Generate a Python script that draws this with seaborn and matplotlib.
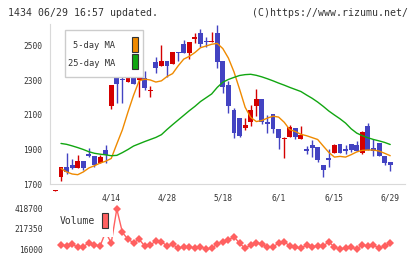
import matplotlib
matplotlib.use("Agg")
import matplotlib.pyplot as plt
from matplotlib.patches import Rectangle
import numpy as np
import pandas as pd
import seaborn as sns

# trading days (3/31 is the clipped candle under the axis)
dates = ["3/31",
         "4/1", "4/2", "4/3", "4/6", "4/7", "4/8", "4/9", "4/10", "4/13", "4/14",
         "4/15", "4/16", "4/17", "4/20", "4/21", "4/22", "4/23", "4/24", "4/27", "4/28",
         "4/30", "5/1", "5/7", "5/8", "5/11", "5/12", "5/13", "5/14", "5/15", "5/18",
         "5/19", "5/20", "5/21", "5/22", "5/25", "5/26", "5/27", "5/28", "5/29", "6/1",
         "6/2", "6/3", "6/4", "6/5", "6/8", "6/9", "6/10", "6/11", "6/12", "6/15",
         "6/16", "6/17", "6/18", "6/19", "6/22", "6/23", "6/24", "6/25", "6/26", "6/29"]

opens = [1662,
         1739, 1798, 1810, 1793, 1833, 1875, 1862, 1821, 1896, 2151,
         2469, 2309, 2291, 2349, 2301, 2313, 2241, 2405, 2384, 2411,
         2395, 2465, 2509, 2459, 2540, 2573, 2527, 2523, 2578, 2411,
         2272, 2128, 2081, 2025, 2060, 2151, 2191, 2060, 2103, 2020,
         1958, 1974, 2024, 1962, 1898, 1925, 1914, 1810, 1852, 1881,
         1931, 1902, 1931, 1925, 1881, 2035, 1908, 1937, 1862, 1829]
closes = [1668,
          1798, 1769, 1795, 1833, 1794, 1864, 1812, 1856, 1866, 2272,
          2282, 2305, 2341, 2282, 2330, 2257, 2245, 2372, 2411, 2384,
          2463, 2461, 2459, 2521, 2555, 2509, 2523, 2527, 2405, 2262,
          2151, 1997, 1977, 2041, 2128, 2191, 2060, 2047, 2016, 1968,
          1962, 2029, 1974, 1983, 1894, 1908, 1839, 1781, 1839, 1925,
          1881, 1892, 1898, 1892, 2001, 1896, 1892, 1864, 1823, 1812]
highs = [1668,
         1800, 1879, 1844, 1868, 1833, 1908, 1862, 1868, 1925, 2272,
         2469, 2365, 2411, 2376, 2355, 2353, 2268, 2434, 2503, 2411,
         2463, 2465, 2532, 2521, 2578, 2596, 2550, 2584, 2619, 2411,
         2295, 2139, 2081, 2083, 2157, 2249, 2191, 2099, 2103, 2020,
         1972, 2043, 2024, 2035, 1920, 1954, 1914, 1810, 1905, 1931,
         1931, 1927, 1931, 1949, 2006, 2053, 1960, 1937, 1862, 1829]
lows = [1662,
        1717, 1757, 1786, 1793, 1781, 1856, 1798, 1821, 1821, 2134,
        2168, 2168, 2291, 2282, 2203, 2243, 2203, 2343, 2384, 2320,
        2395, 2413, 2459, 2423, 2515, 2494, 2492, 2523, 2372, 2226,
        2110, 1966, 1972, 2012, 2035, 2095, 2049, 1997, 1995, 1904,
        1850, 1974, 1960, 1962, 1875, 1856, 1827, 1740, 1798, 1881,
        1881, 1875, 1887, 1892, 1876, 1896, 1864, 1864, 1812, 1777]

ma5 = [np.nan,
       1790, 1770, 1758, 1754, 1770, 1793, 1806, 1821, 1832, 1848,
       1932, 2014, 2117, 2214, 2298, 2308, 2303, 2291, 2298, 2323,
       2340, 2385, 2424, 2440, 2462, 2490, 2500, 2510, 2515, 2485,
       2430, 2350, 2250, 2145, 2086, 2062, 2068, 2082, 2093, 2088,
       2058, 2015, 2004, 1988, 1980, 1969, 1958, 1920, 1883, 1856,
       1860, 1856, 1870, 1886, 1895, 1897, 1897, 1891, 1878, 1864]
ma25 = [np.nan,
        1935, 1930, 1921, 1911, 1900, 1887, 1878, 1873, 1869, 1864,
        1866, 1882, 1900, 1920, 1933, 1946, 1958, 1970, 1986, 2016,
        2044, 2071, 2098, 2125, 2150, 2178, 2200, 2222, 2260, 2290,
        2306, 2318, 2329, 2334, 2336, 2330, 2321, 2310, 2298, 2285,
        2273, 2260, 2248, 2236, 2216, 2197, 2175, 2150, 2123, 2100,
        2078, 2053, 2020, 1995, 1980, 1968, 1958, 1950, 1941, 1929]
volume = [np.nan,
          56000, 49000, 66000, 33000, 39000, 80000, 56000, 46000, 187000, 76000,
          418700, 184000, 113600, 79400, 113600, 46200, 53000, 99600, 89500, 46200,
          63000, 23000, 39000, 39000, 23000, 39000, 16000, 23000, 66300, 89500,
          106600, 140000, 73400, 23000, 56000, 79400, 66300, 33100, 33100, 79400,
          89500, 46200, 33100, 23000, 56000, 39000, 46200, 46200, 89500, 33100,
          16000, 23000, 33100, 16000, 56000, 46200, 56000, 23000, 46200, 73400]

date_labels = ["4/14", "4/28", "5/18", "6/1", "6/15", "6/29"]
price_ticks = [1700, 1900, 2100, 2300, 2500]
volume_ticks = [16000, 217350, 418700]

RED = "#d40000"
BLUE = "#4343c2"
ORANGE = "#ef8a00"
GREEN = "#11a611"
VOLCOL = "#ff6060"
GRID = "#d9d9d9"
TEXT = "#333333"

W, H = 420, 259


def px_rect(fig, x, y, w, h, **kw):
    """rectangle given in pixels from the top left corner"""
    r = Rectangle((x / W, 1 - (y + h) / H), w / W, h / H, transform=fig.transFigure, **kw)
    fig.add_artist(r)
    return r


def px_text(fig, x, y, s, **kw):
    return fig.text(x / W, 1 - y / H, s, **kw)


def make_frame():
    df = pd.DataFrame({"date": dates, "open": opens, "high": highs, "low": lows,
                       "close": closes, "ma5": ma5, "ma25": ma25, "volume": volume})
    df["x"] = np.arange(len(df))
    return df


def main():
    df = make_frame()
    sns.set_style("white")
    plt.rcParams["font.family"] = ["DejaVu Sans Mono"]

    fig = plt.figure(figsize=(4.2, 2.59), dpi=100)
    ax = fig.add_axes([50 / W, 75 / H, 355 / W, 160 / H])
    vax = fig.add_axes([50 / W, 6 / H, 355 / W, 48 / H], sharex=ax)

    xmin, xmax = -0.971, 62.65

    # candles
    up = df["close"] >= df["open"]
    cols = np.where(up, RED, BLUE)
    ax.vlines(df["x"], df["low"], df["high"], colors=cols, linewidth=1, clip_on=False, zorder=2)
    lo = np.minimum(df["open"], df["close"])
    h = np.maximum((df["close"] - df["open"]).abs(), 6)
    ax.bar(df["x"], h, bottom=lo, width=0.88, color=cols, linewidth=0, clip_on=False, zorder=3)

    sns.lineplot(data=df, x="x", y="ma5", ax=ax, color=ORANGE, linewidth=1, zorder=4)
    sns.lineplot(data=df, x="x", y="ma25", ax=ax, color=GREEN, linewidth=1, zorder=4)

    ax.set_xlim(xmin, xmax)
    ax.set_ylim(1700, 2627.5)
    ax.set_xlabel("")
    ax.set_ylabel("")
    for side in ["top", "right"]:
        ax.spines[side].set_visible(False)
    for side in ["left", "bottom"]:
        ax.spines[side].set_color(GRID)
    ax.set_yticks(price_ticks)
    ax.set_yticklabels([str(v) for v in price_ticks])
    ax.set_xticks([dates.index(d) for d in date_labels])
    ax.set_xticklabels(date_labels)
    ax.set_xticks(np.linspace(xmin, xmax, 12), minor=True)
    ax.tick_params(axis="x", which="major", length=0, pad=7, labelsize=5.7, labelcolor=TEXT)
    ax.tick_params(axis="x", which="minor", length=5.4, width=1, direction="inout", color=GRID)
    ax.tick_params(axis="y", length=5.5, width=1, direction="inout", color=GRID,
                   pad=3, labelsize=5.7, labelcolor=TEXT)

    # MA key
    px_rect(fig, 65, 30, 78, 47, facecolor="white", edgecolor="#cccccc", linewidth=1, zorder=5)
    px_text(fig, 115, 46, "5-day MA", fontsize=6.3, color=TEXT, ha="right", va="center", zorder=6)
    px_text(fig, 115, 63, "25-day MA", fontsize=6.3, color=TEXT, ha="right", va="center", zorder=6)
    px_rect(fig, 132, 37, 6, 15, facecolor=ORANGE, edgecolor="#333333", linewidth=0.8, zorder=6)
    px_rect(fig, 132, 54, 6, 15, facecolor=GREEN, edgecolor="#333333", linewidth=0.8, zorder=6)

    # volume
    sns.lineplot(data=df, x="x", y="volume", ax=vax, color=VOLCOL, linewidth=1,
                 marker="D", markersize=4, markeredgewidth=0)
    vax.set_ylim(16000 - 4 * 10067, 418700 + 4 * 10067)
    vax.set_xlabel("")
    vax.set_ylabel("")
    for side in vax.spines:
        vax.spines[side].set_visible(False)
    vax.set_yticks(volume_ticks)
    vax.set_yticklabels([str(v) for v in volume_ticks])
    vax.tick_params(axis="y", length=0, pad=5, labelsize=5.7, labelcolor=TEXT)
    vax.tick_params(axis="x", which="both", length=0, labelbottom=False)

    px_rect(fig, 52, 206, 61, 31, facecolor="white", edgecolor="none", zorder=5)
    px_text(fig, 95, 221.5, "Volume", fontsize=7, color=TEXT, ha="right", va="center", zorder=6)
    px_rect(fig, 102, 213, 6, 15, facecolor=VOLCOL, edgecolor="#333333", linewidth=0.8, zorder=6)

    px_text(fig, 8, 13, "1434 06/29 16:57 updated.", fontsize=7.1,
            color=TEXT, ha="left", va="center")
    px_text(fig, 408, 13, "(C)https://www.rizumu.net/", fontsize=7.1,
            color=TEXT, ha="right", va="center")

    fig.savefig("out.png", dpi=100)


if __name__ == "__main__":
    main()
